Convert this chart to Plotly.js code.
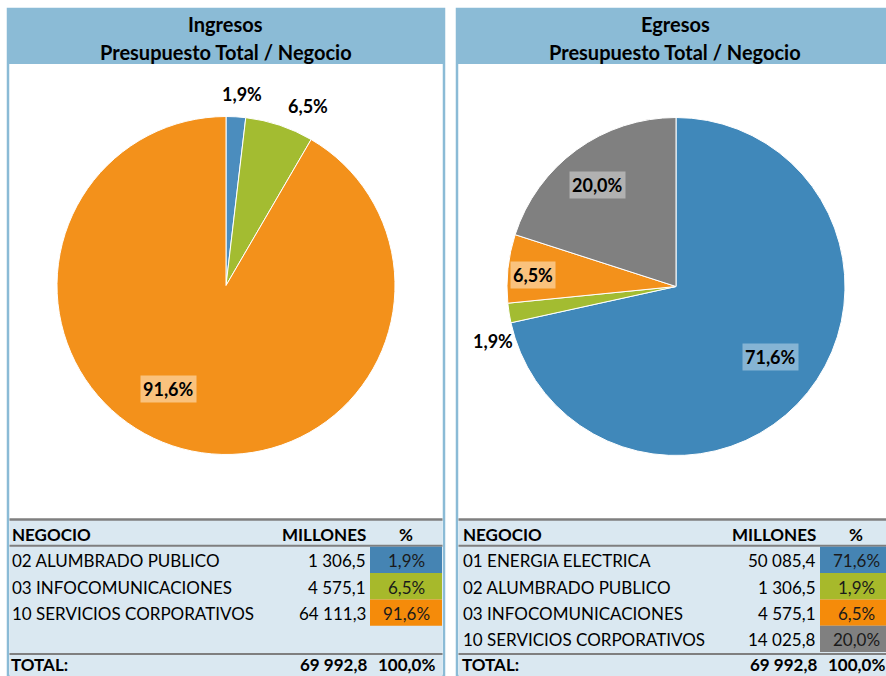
<!DOCTYPE html>
<html>
<head>
<meta charset="utf-8">
<script src="https://cdn.plot.ly/plotly-3.0.1.min.js"></script>
<style>html,body{margin:0;padding:0;background:#fff;}#chart{width:886px;height:676px;}</style>
</head>
<body>
<div id="chart"></div>
<script>
// ---- data ----
const ingresosTitle = 'Ingresos';
const egresosTitle = 'Egresos';
const subTitle = 'Presupuesto Total / Negocio';
const tableHeaders = ['NEGOCIO', 'MILLONES', '%'];
const totalLabel = 'TOTAL:';
const ingresosNegocio = ['02 ALUMBRADO PUBLICO', '03 INFOCOMUNICACIONES', '10 SERVICIOS CORPORATIVOS'];
const ingresosMillones = [1306.5, 4575.1, 64111.3];
const ingresosTotal = 69992.8;
const egresosNegocio = ['01 ENERGIA ELECTRICA', '02 ALUMBRADO PUBLICO', '03 INFOCOMUNICACIONES', '10 SERVICIOS CORPORATIVOS'];
const egresosMillones = [50085.4, 1306.5, 4575.1, 14025.8];
const egresosTotal = 69992.8;

// ---- styles ----
const W = 886, H = 676;
const X = x => x / W;
const Y = y => 1 - y / H;
const FONT = 'Lato, "Open Sans", sans-serif';
const headerBlue = '#8BBBD6';
const tableBg = '#DAE8F1';
const lineGray = '#7F7F7F';
const ingPieColors = ['#4B8DBE', '#A3BC31', '#F3911B'];
const egrPieColors = ['#4088BA', '#A3BC31', '#F3911B', '#808080'];
const ingCellColors = ['#4584B3', '#A7B92B', '#F58B0A'];
const egrCellColors = ['#4584B3', '#A7B92B', '#F58B0A', '#808080'];
const ingLabelBg = ['rgba(0,0,0,0)', 'rgba(0,0,0,0)', 'rgba(255,235,205,0.55)'];
const egrLabelBg = ['rgba(220,235,245,0.45)', 'rgba(0,0,0,0)', 'rgba(255,235,205,0.55)', 'rgba(225,225,225,0.5)'];
// label placement (fraction of radius, angular shift in degrees)
const ingLabelRadius = [1.137, 1.167, 0.70];
const ingLabelShift = [1.4, 6.0, 14.2];
const egrLabelRadius = [0.70, 1.13, 0.85, 0.76];
const egrLabelShift = [-2.2, -7.6, -1.5, -1.8];

function fmtNum(v) {
  const parts = v.toFixed(1).split('.');
  const intPart = parts[0].replace(/\B(?=(\d{3})+(?!\d))/g, ' ');
  return intPart + ',' + parts[1];
}
function fmtPct(v, total) {
  return (v / total * 100).toFixed(1).replace('.', ',') + '%';
}

const shapes = [];
const annotations = [];

function panel(p) {
  shapes.push({type: 'rect', xref: 'paper', yref: 'paper', layer: 'below',
    x0: X(p.x0), x1: X(p.x1), y0: Y(676), y1: Y(9),
    fillcolor: '#FFFFFF', line: {color: headerBlue, width: 2.5}});
  shapes.push({type: 'rect', xref: 'paper', yref: 'paper', layer: 'below',
    x0: X(p.x0), x1: X(p.x1), y0: Y(64), y1: Y(9),
    fillcolor: headerBlue, line: {width: 0}});
  shapes.push({type: 'rect', xref: 'paper', yref: 'paper', layer: 'below',
    x0: X(p.x0 + 1.5), x1: X(p.x1 - 1.5), y0: Y(676), y1: Y(519),
    fillcolor: tableBg, line: {width: 0}});
  [[519.5, 2.5], [545.8, 2], [654, 2]].forEach(([y, w]) => {
    shapes.push({type: 'line', xref: 'paper', yref: 'paper', layer: 'below',
      x0: X(p.x0 + 1.5), x1: X(p.x1 - 1.5), y0: Y(y), y1: Y(y),
      line: {color: lineGray, width: w}});
  });
  annotations.push({xref: 'paper', yref: 'paper', x: X(p.cx), y: Y(24), text: '<b>' + p.title + '</b>',
    showarrow: false, xanchor: 'center', yanchor: 'middle', font: {family: FONT, size: 20, color: '#000'}});
  annotations.push({xref: 'paper', yref: 'paper', x: X(p.cx), y: Y(52), text: '<b>' + subTitle + '</b>',
    showarrow: false, xanchor: 'center', yanchor: 'middle', font: {family: FONT, size: 20, color: '#000'}});
  const hy = Y(534.5);
  annotations.push({xref: 'paper', yref: 'paper', x: X(p.colName), y: hy, text: '<b>' + tableHeaders[0] + '</b>',
    showarrow: false, xanchor: 'left', yanchor: 'middle', font: {family: FONT, size: 17, color: '#000'}});
  annotations.push({xref: 'paper', yref: 'paper', x: X(p.colVal), y: hy, text: '<b>' + tableHeaders[1] + '</b>',
    showarrow: false, xanchor: 'right', yanchor: 'middle', font: {family: FONT, size: 17, color: '#000'}});
  annotations.push({xref: 'paper', yref: 'paper', x: X(p.colPct), y: hy, text: '<b>' + tableHeaders[2] + '</b>',
    showarrow: false, xanchor: 'center', yanchor: 'middle', font: {family: FONT, size: 17, color: '#000'}});
  const rowH = 26.3, top = 546.8;
  p.names.forEach((n, i) => {
    const t = top + rowH * i;
    shapes.push({type: 'rect', xref: 'paper', yref: 'paper', layer: 'below',
      x0: X(p.cellX0), x1: X(p.cellX1), y0: Y(t + rowH), y1: Y(t),
      fillcolor: p.cellColors[i], line: {width: 0}});
    const cy = Y(t + rowH / 2 + 1);
    annotations.push({xref: 'paper', yref: 'paper', x: X(p.colName), y: cy, text: n,
      showarrow: false, xanchor: 'left', yanchor: 'middle', font: {family: FONT, size: 17, color: '#000'}});
    annotations.push({xref: 'paper', yref: 'paper', x: X(p.colVal), y: cy, text: fmtNum(p.values[i]),
      showarrow: false, xanchor: 'right', yanchor: 'middle', font: {family: FONT, size: 17, color: '#000'}});
    annotations.push({xref: 'paper', yref: 'paper', x: X(p.colPct), y: cy, text: fmtPct(p.values[i], p.total),
      showarrow: false, xanchor: 'center', yanchor: 'middle', font: {family: FONT, size: 17, color: '#1a1a1a'}});
  });
  // total row, kept inside the bottom edge
  const ty = Y(676);
  const totFont = {family: FONT, size: 17, color: '#000'};
  annotations.push({xref: 'paper', yref: 'paper', x: X(p.colName), y: ty, text: '<b>' + totalLabel + '</b>',
    showarrow: false, xanchor: 'left', yanchor: 'bottom', borderpad: 0, font: totFont});
  annotations.push({xref: 'paper', yref: 'paper', x: X(p.colVal), y: ty, text: '<b>' + fmtNum(p.total) + '</b>',
    showarrow: false, xanchor: 'right', yanchor: 'bottom', borderpad: 0, font: totFont});
  annotations.push({xref: 'paper', yref: 'paper', x: X(p.colPct), y: ty, text: '<b>' + fmtPct(p.total, p.total) + '</b>',
    showarrow: false, xanchor: 'center', yanchor: 'bottom', borderpad: 0, font: totFont});
}

// pie percentage labels placed from slice angles computed from the data
function pieLabels(values, cx, cy, r, radius, shift, bgs) {
  const total = values.reduce((a, b) => a + b, 0);
  let cum = 0;
  values.forEach((v, i) => {
    const mid = (cum + v / 2) / total * 360 + shift[i];
    cum += v;
    const a = mid * Math.PI / 180;
    const px = cx + radius[i] * r * Math.sin(a);
    const py = cy - radius[i] * r * Math.cos(a);
    annotations.push({xref: 'paper', yref: 'paper', x: X(px), y: Y(py),
      text: '<b>' + fmtPct(v, total) + '</b>', showarrow: false,
      xanchor: 'center', yanchor: 'middle', bgcolor: bgs[i], borderpad: 2,
      font: {family: FONT, size: 18, color: '#000'}});
  });
}

panel({x0: 8, x1: 444, cx: 226, title: ingresosTitle, names: ingresosNegocio, values: ingresosMillones,
  total: ingresosTotal, cellColors: ingCellColors, colName: 10, colVal: 368, colPct: 406, cellX0: 370, cellX1: 442});
panel({x0: 457, x1: 900, cx: 675, title: egresosTitle, names: egresosNegocio, values: egresosMillones,
  total: egresosTotal, cellColors: egrCellColors, colName: 461, colVal: 818, colPct: 856, cellX0: 820, cellX1: 886});

pieLabels(ingresosMillones, 226, 285.5, 169, ingLabelRadius, ingLabelShift, ingLabelBg);
pieLabels(egresosMillones, 676, 286.5, 169, egrLabelRadius, egrLabelShift, egrLabelBg);

const pieCommon = {
  type: 'pie', sort: false, direction: 'clockwise', rotation: 0,
  textinfo: 'none', hoverinfo: 'none', automargin: false
};

const traces = [
  Object.assign({}, pieCommon, {
    values: ingresosMillones, labels: ingresosNegocio,
    domain: {x: [X(57), X(395)], y: [Y(454.5), Y(116.5)]},
    marker: {colors: ingPieColors, line: {color: '#FFFFFF', width: 1}}
  }),
  Object.assign({}, pieCommon, {
    values: egresosMillones, labels: egresosNegocio.map(s => 'E ' + s),
    domain: {x: [X(507), X(845)], y: [Y(455.5), Y(117.5)]},
    marker: {colors: egrPieColors, line: {color: '#FFFFFF', width: 1}}
  })
];

const layout = {
  width: W, height: H,
  margin: {l: 0, r: 0, t: 0, b: 0, pad: 0},
  paper_bgcolor: '#FFFFFF', plot_bgcolor: '#FFFFFF',
  showlegend: false, separators: ', ',
  font: {family: FONT},
  shapes: shapes, annotations: annotations
};

Plotly.newPlot('chart', traces, layout, {displayModeBar: false, staticPlot: true});
</script>
</body>
</html>
